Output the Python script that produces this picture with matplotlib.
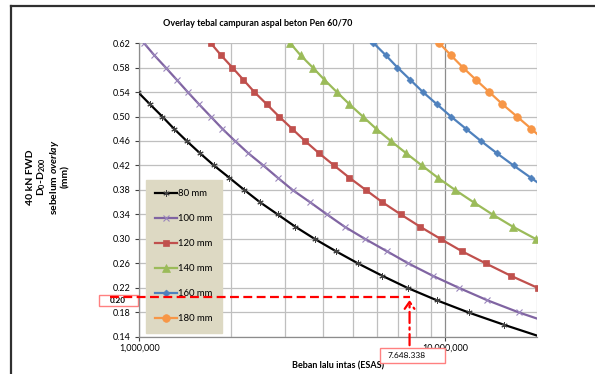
import matplotlib
matplotlib.use("Agg")
import matplotlib.pyplot as plt
from matplotlib.patches import Rectangle
from matplotlib.ticker import FixedLocator, FuncFormatter, NullFormatter

plt.rcParams['font.family'] = ['Lato', 'DejaVu Sans']
plt.rcParams['mathtext.fontset'] = 'custom'
plt.rcParams['mathtext.rm'] = 'Lato'
plt.rcParams['mathtext.it'] = 'Lato:italic'
plt.rcParams['mathtext.bf'] = 'Lato:bold'
plt.rcParams['mathtext.bfit'] = 'Lato:bold:italic'

# deflection D0-D200 before overlay (mm) vs ESA for each overlay thickness
labels = ["80 mm", "100 mm", "120 mm", "140 mm", "160 mm", "180 mm"]

defl_80 = [0.54, 0.52, 0.50, 0.48, 0.46, 0.44, 0.42, 0.40, 0.38, 0.36, 0.34,
           0.32, 0.30, 0.28, 0.26, 0.24, 0.22, 0.20, 0.18, 0.16, 0.14]
esa_80 = [0.99e6, 1.084e6, 1.189e6, 1.299e6, 1.429e6, 1.580e6, 1.755e6, 1.970e6,
          2.206e6, 2.482e6, 2.836e6, 3.238e6, 3.749e6, 4.394e6, 5.194e6, 6.222e6,
          7.540e6, 9.380e6, 1.192e7, 1.555e7, 2.06e7]

defl_100 = [0.62, 0.60, 0.58, 0.56, 0.54, 0.52, 0.50, 0.48, 0.46, 0.44, 0.42, 0.40,
            0.38, 0.36, 0.34, 0.32, 0.30, 0.28, 0.26, 0.24, 0.22, 0.20, 0.18, 0.16]
esa_100 = [1.036e6, 1.120e6, 1.220e6, 1.326e6, 1.440e6, 1.568e6, 1.712e6, 1.869e6,
           2.056e6, 2.273e6, 2.545e6, 2.836e6, 3.171e6, 3.618e6, 4.112e6, 4.692e6,
           5.474e6, 6.448e6, 7.586e6, 9.101e6, 1.111e7, 1.372e7, 1.743e7, 2.29e7]

defl_120 = [0.62, 0.60, 0.58, 0.56, 0.54, 0.52, 0.50, 0.48, 0.46, 0.44, 0.42,
            0.40, 0.38, 0.36, 0.34, 0.32, 0.30, 0.28, 0.26, 0.24, 0.22]
esa_120 = [1.712e6, 1.851e6, 2.015e6, 2.189e6, 2.378e6, 2.611e6, 2.864e6, 3.159e6,
           3.484e6, 3.871e6, 4.335e6, 4.864e6, 5.504e6, 6.235e6, 7.164e6, 8.285e6,
           9.667e6, 1.134e7, 1.359e7, 1.638e7, 2.01e7]

defl_140 = [0.62, 0.60, 0.58, 0.56, 0.54, 0.52, 0.50, 0.48, 0.46, 0.44, 0.42,
            0.40, 0.38, 0.36, 0.34, 0.32, 0.30]
esa_140 = [3.112e6, 3.367e6, 3.691e6, 4.030e6, 4.423e6, 4.864e6, 5.381e6, 5.947e6,
           6.643e6, 7.456e6, 8.391e6, 9.465e6, 1.078e7, 1.238e7, 1.428e7, 1.665e7,
           1.977e7]

defl_160 = [0.62, 0.60, 0.58, 0.56, 0.54, 0.52, 0.50, 0.48, 0.46, 0.44, 0.42, 0.40, 0.38]
esa_160 = [5.829e6, 6.397e6, 6.982e6, 7.685e6, 8.455e6, 9.395e6, 1.044e7, 1.169e7,
           1.309e7, 1.476e7, 1.673e7, 1.906e7, 2.17e7]

defl_180 = [0.62, 0.60, 0.58, 0.56, 0.54, 0.52, 0.50, 0.48, 0.46]
esa_180 = [9.559e6, 1.044e7, 1.143e7, 1.260e7, 1.393e7, 1.539e7, 1.716e7, 1.911e7, 2.12e7]

y_ticks = [0.14, 0.18, 0.22, 0.26, 0.30, 0.34, 0.38, 0.42, 0.46, 0.50, 0.54, 0.58, 0.62]

# reading example
target_defl = 0.205
target_defl_label = "0.20"
target_esa = 7648338
target_esa_label = "7.648.338"

series = [
    (esa_80, defl_80, "#000000", (6, 2, 0), 4.5, 0.7, "#404040"),
    (esa_100, defl_100, "#8064A2", "x", 4.5, 0.8, "#9A86BC"),
    (esa_120, defl_120, "#C0504D", "s", 5, 0.5, "#C0504D"),
    (esa_140, defl_140, "#9BBB59", "^", 5.5, 0.5, "#9BBB59"),
    (esa_160, defl_160, "#4F81BD", "D", 3.5, 0.5, "#4F81BD"),
    (esa_180, defl_180, "#F79646", "o", 5.5, 0.5, "#F79646"),
]

fig = plt.figure(figsize=(5.95, 3.74), dpi=100)
ax = fig.add_axes([0.234, 0.099, 0.669, 0.786])

for (x, y, c, m, ms, mew, mec), lab in zip(series, labels):
    ax.plot(x, y, color=c, lw=1.6, marker=m, markersize=ms, markeredgewidth=mew,
            markeredgecolor=mec, label=lab, zorder=3)

ax.set_xscale('log')
ax.set_xlim(1e6, 2e7)
ax.set_ylim(0.14, 0.62)
ax.set_yticks(y_ticks)
ax.yaxis.set_major_formatter(FuncFormatter(lambda v, p: f"{v:.2f}"))
ax.xaxis.set_major_locator(FixedLocator([1e6, 1e7]))
ax.xaxis.set_major_formatter(FuncFormatter(lambda v, p: f"{int(v):,}"))
ax.xaxis.set_minor_locator(FixedLocator([k * 1e6 for k in range(2, 10)] + [2e7]))
ax.xaxis.set_minor_formatter(NullFormatter())
ax.tick_params(axis='both', labelsize=6.5, colors='#404040', length=3, width=0.8)
ax.tick_params(axis='x', which='minor', length=0)
ax.tick_params(axis='x', which='major', pad=2)
for lab in ax.get_xticklabels() + ax.get_yticklabels():
    lab.set_color('black')

ax.grid(True, which='major', axis='y', color='#BFBFBF', lw=0.9)
ax.grid(True, which='minor', axis='x', color='#BFBFBF', lw=0.9)
ax.grid(True, which='major', axis='x', color='#8C8C8C', lw=0.9)
ax.set_axisbelow(True)
for s in ['top', 'right']:
    ax.spines[s].set_visible(False)
for s in ['left', 'bottom']:
    ax.spines[s].set_color('#8C8C8C')
    ax.spines[s].set_linewidth(0.9)

leg = ax.legend(loc='lower left', bbox_to_anchor=(0.017, 0.014), borderaxespad=0,
                fontsize=6.8, labelspacing=1.7, handlelength=2.3, handletextpad=0.1,
                borderpad=1.0, fancybox=False, framealpha=1, facecolor='#DDD9C3',
                edgecolor='#DDD9C3')
leg.set_zorder(4)

ax.set_xlabel("Beban lalu intas (ESAS)", fontsize=6.5, fontweight='bold', labelpad=6)
fig.text(0.433, 0.936, "Overlay tebal campuran aspal beton Pen 60/70",
         fontsize=6.5, fontweight='bold', ha='center', va='center')
fig.text(0.081, 0.527,
         "40 kN FWD\nD$_\\mathbf{0}$-D$_\\mathbf{200}$\nsebelum $\\mathbfit{overlay}$\n(mm)",
         rotation=90, fontsize=7.5, fontweight='bold', ha='center', va='center',
         multialignment='center', linespacing=1.0)

# reading example: dashed red guide lines
ax.plot([8e5, target_esa], [target_defl, target_defl], color='#FF0000', lw=1.6,
        ls=(0, (4, 2)), clip_on=False, zorder=5)
ax.annotate("", xy=(target_esa, target_defl), xytext=(target_esa, 0.122),
            arrowprops=dict(arrowstyle='->,head_length=0.5,head_width=0.35',
                            color='#FF0000', lw=1.6, ls=(0, (5, 2, 1, 2))),
            annotation_clip=False, zorder=5)
ax.add_patch(Rectangle((-0.102, 0.106), 0.1, 0.037, transform=ax.transAxes,
                       fill=False, edgecolor='#FF8080', lw=1.0, clip_on=False))
ax.text(-0.055, 0.123, target_defl_label, transform=ax.transAxes, fontsize=5.8,
        fontweight='bold', ha='center', va='center')
ax.add_patch(Rectangle((0.605, -0.087), 0.164, 0.05, transform=ax.transAxes,
                       facecolor='white', edgecolor='#FF8080', lw=1.0, clip_on=False,
                       zorder=4))
ax.text(0.672, -0.062, target_esa_label, transform=ax.transAxes, fontsize=6,
        ha='center', va='center', zorder=5)

# page border lines
fig.add_artist(plt.Line2D([0.019, 1.0], [0.984, 0.984], color='#303030', lw=1.6))
fig.add_artist(plt.Line2D([0.019, 0.019], [0.0, 0.984], color='#303030', lw=1.6))

fig.savefig("out.png", dpi=100)
